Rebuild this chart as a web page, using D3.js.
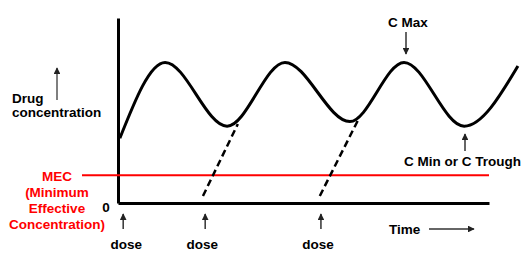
<!DOCTYPE html>
<html>
<head>
<meta charset="utf-8">
<script src="https://cdn.jsdelivr.net/npm/d3@7"></script>
<style>
body { margin: 0; background: #fff; }
text { font-family: "Liberation Sans", Arial, sans-serif; font-weight: bold; font-size: 13.5px; }
</style>
</head>
<body>
<svg id="chart" width="526" height="255"></svg>
<script>
// curve points (time, concentration)
var times = [0.05, 1.27, 2.94, 4.5, 6.25, 7.71, 9.33, 10.78];
var conc = [3.5, 7.6, 4.15, 7.6, 4.4, 7.6, 4.15, 7.4];
// dose times and absorption lines (start -> end)
var doseTimes = [0.14, 2.35, 5.47];
var absStartT = [2.29, 5.44];
var absStartC = [0.38, 0.38];
var absEndT = [3.23, 6.5];
var absEndC = [4.27, 4.6];
var mec = 1.5;
var mecLabel = ["MEC", "(Minimum", "Effective", "Concentration)"];
var yLabel = ["Drug", "concentration"];

var svg = d3.select("#chart");
var x = d3.scaleLinear().domain([0, 10]).range([118, 489]);
var y = d3.scaleLinear().domain([0, 10]).range([203, 18]);

var defs = svg.append("defs");
defs.append("marker")
	.attr("id", "head")
	.attr("viewBox", "0 0 10 10")
	.attr("refX", 9).attr("refY", 5)
	.attr("markerWidth", 4.5).attr("markerHeight", 4.5)
	.attr("orient", "auto")
	.append("path").attr("d", "M0,0L10,5L0,10Z").attr("fill", "#222");

function arrow(x1, y1, x2, y2, col) {
	svg.append("line")
		.attr("x1", x1).attr("y1", y1).attr("x2", x2).attr("y2", y2)
		.attr("stroke", col || "#333").attr("stroke-width", 1.5)
		.attr("marker-end", "url(#head)");
}

// axes, no ticks
svg.append("g").attr("transform", "translate(0," + y(0) + ")")
	.call(d3.axisBottom(x).tickValues([]).tickSizeOuter(0))
	.select(".domain").attr("stroke", "#000").attr("stroke-width", 3);
svg.append("g").attr("transform", "translate(" + x(0) + ",0)")
	.call(d3.axisLeft(y).tickValues([]).tickSizeOuter(0))
	.select(".domain").attr("stroke", "#000").attr("stroke-width", 3);
svg.append("text").attr("x", 106).attr("y", y(0) + 9).attr("text-anchor", "middle").text("0");

// MEC line
svg.append("line")
	.attr("x1", 82).attr("x2", x(10)).attr("y1", y(mec)).attr("y2", y(mec))
	.attr("stroke", "#ff0000").attr("stroke-width", 2);

// absorption dashes
svg.selectAll(".abs").data(absStartT).enter().append("line")
	.attr("class", "abs")
	.attr("x1", function(d) { return x(d); })
	.attr("y1", function(d, i) { return y(absStartC[i]); })
	.attr("x2", function(d, i) { return x(absEndT[i]); })
	.attr("y2", function(d, i) { return y(absEndC[i]); })
	.attr("stroke", "#000").attr("stroke-width", 2.5)
	.attr("stroke-dasharray", "7,4");

// concentration curve
var line = d3.line()
	.x(function(d, i) { return x(times[i]); })
	.y(function(d) { return y(d); })
	.curve(d3.curveMonotoneX);
svg.append("path").datum(conc)
	.attr("d", line)
	.attr("fill", "none").attr("stroke", "#000").attr("stroke-width", 3);

// dose arrows + labels
doseTimes.forEach(function(t, i) {
	var xx = x(t);
	arrow(xx, 229, xx, 214);
	svg.append("text").attr("x", xx - 3 + (i == 0 ? 6 : 0)).attr("y", 249).attr("text-anchor", "middle").text("dose");
});

// y label
svg.selectAll(".ylab").data(yLabel).enter().append("text")
	.attr("class", "ylab")
	.attr("x", 12).attr("y", function(d, i) { return 103 + i * 14; })
	.text(function(d) { return d; });
arrow(57, 100, 57, 68, "#555");

// MEC label
svg.selectAll(".meclab").data(mecLabel).enter().append("text")
	.attr("class", "meclab")
	.attr("x", 57).attr("y", function(d, i) { return 181 + i * 16; })
	.attr("text-anchor", "middle").attr("fill", "#ff0000")
	.text(function(d) { return d; });

// C Max
svg.append("text").attr("x", 408).attr("y", 27).attr("text-anchor", "middle").text("C Max");
arrow(406, 32, 406, 54);

// C Min
arrow(465, 151, 465, 134);
svg.append("text").attr("x", 404).attr("y", 166).text("C Min or C Trough");

// Time
svg.append("text").attr("x", 389).attr("y", 234).text("Time");
arrow(429, 229, 474, 229);
</script>
</body>
</html>
